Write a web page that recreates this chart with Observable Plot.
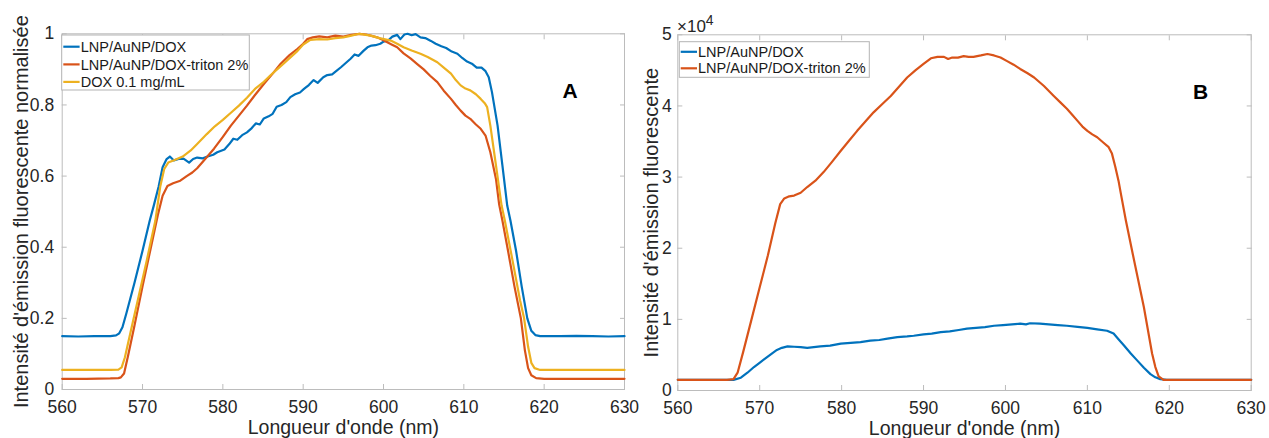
<!DOCTYPE html>
<html><head><meta charset="utf-8">
<script src="https://cdn.jsdelivr.net/npm/d3@7"></script>
<script src="https://cdn.jsdelivr.net/npm/@observablehq/plot@0.6"></script>
<style>
body{margin:0;background:#fff;}
#wrap{position:relative;width:1269px;height:438px;overflow:hidden;font-family:"Liberation Sans",Arial,sans-serif;}
#wrap > svg{position:absolute;top:0;}
#overlay{position:absolute;left:0;top:0;pointer-events:none;}
</style></head>
<body><div id="wrap"></div>
<script>
// ---------- ticks & labels ----------
const xTicks = [560,570,580,590,600,610,620,630];
const yTicksA = [0,0.2,0.4,0.6,0.8,1];
const yTicksB = [0,1,2,3,4,5];
const seriesNames = ["LNP/AuNP/DOX","LNP/AuNP/DOX-triton 2%","DOX 0.1 mg/mL"];
const colors = ["#0072BD","#D95319","#EDB120"];
const xLabel = "Longueur d'onde (nm)";
const yLabelA = "Intensité d'émission fluorescente normalisée";
const yLabelB = "Intensité d'émission fluorescente";

// ---------- Panel A (normalised) ----------
const wlA_lnp = [560,562,564,566,566.7,567.1,567.5,568,569,570,570.9,571.4,572,572.5,573,573.4,573.9,574.5,575.1,575.8,576.3,576.8,577.5,578.1,578.8,579.3,580.2,580.8,581.3,581.8,582.4,583,583.6,584.1,584.6,585.1,585.7,586.2,586.7,587.3,587.9,588.4,589,589.6,590.1,590.7,591.3,591.8,592.5,593,593.6,594.1,594.7,595.3,595.9,596.4,596.9,597.5,598,598.5,599,599.6,600,600.6,601.1,601.7,602.1,602.6,603,603.5,604,604.6,605.2,605.9,606.5,607.2,607.8,608.5,609.2,609.8,610.4,611,611.6,612.2,612.7,613.1,613.5,614.2,614.8,615.4,615.8,616.5,617.2,617.9,618.4,618.9,619.5,622,624,626,628,630];
const A_lnp   = [0.150,0.149,0.150,0.150,0.152,0.158,0.175,0.215,0.300,0.390,0.475,0.517,0.570,0.625,0.648,0.655,0.644,0.648,0.649,0.638,0.648,0.652,0.650,0.655,0.660,0.667,0.675,0.690,0.705,0.702,0.715,0.723,0.735,0.748,0.745,0.762,0.768,0.775,0.795,0.800,0.808,0.822,0.830,0.835,0.845,0.856,0.870,0.862,0.878,0.884,0.886,0.895,0.906,0.918,0.930,0.942,0.938,0.952,0.962,0.967,0.968,0.972,0.978,0.982,0.992,0.997,0.985,0.998,1.000,0.996,0.999,0.990,0.988,0.980,0.972,0.965,0.960,0.950,0.944,0.932,0.922,0.916,0.905,0.905,0.895,0.878,0.836,0.742,0.630,0.517,0.475,0.390,0.290,0.200,0.165,0.153,0.150,0.150,0.151,0.150,0.149,0.150];

const wlA_tri = [560,563,566,567,567.3,567.7,568.2,569,570,571,571.9,572.5,573.1,573.8,574.7,575.5,576.2,576.8,577.8,578.9,580,581,582,583,584,585.1,586.2,587.2,588.3,589.3,590,590.5,591.2,592,593,594,595,596,597,597.8,598.4,599.2,600,601,601.7,602.5,603.4,604.2,605,605.8,606.7,607.5,608.4,609,609.6,610.2,610.8,611.5,612.1,612.7,613.3,614,614.4,614.8,615.5,616.3,617.1,617.6,618,618.4,619,620,625,630];
const A_tri   = [0.030,0.030,0.031,0.032,0.034,0.045,0.095,0.180,0.290,0.395,0.490,0.545,0.572,0.580,0.587,0.600,0.610,0.622,0.648,0.677,0.710,0.742,0.770,0.798,0.828,0.859,0.888,0.916,0.940,0.958,0.972,0.985,0.990,0.993,0.990,0.995,0.992,0.997,1.000,0.998,0.995,0.990,0.982,0.970,0.962,0.945,0.930,0.915,0.900,0.882,0.864,0.840,0.817,0.800,0.784,0.770,0.761,0.745,0.733,0.714,0.667,0.592,0.520,0.475,0.390,0.290,0.200,0.110,0.060,0.040,0.032,0.030,0.030,0.030];

const wlA_dox = [560,563,566,567,567.4,567.8,568.5,569.5,570.5,571.6,572.2,572.7,573.2,574,575,576,576.8,578,579,580,581,582,583,584,585.1,586,587,588,589.3,590,590.9,592,593,594,595,596,597,598.4,599.5,600.9,601.7,602.5,603.5,604.6,605.5,606.7,607.5,608.4,609,609.6,610.2,610.8,611.5,612.1,612.6,612.9,613.3,614,614.7,615.1,616,617,617.5,618,618.4,618.8,619.5,622,626,630];
const A_dox   = [0.055,0.055,0.055,0.056,0.062,0.090,0.160,0.260,0.360,0.475,0.570,0.620,0.638,0.645,0.655,0.672,0.690,0.718,0.740,0.758,0.778,0.798,0.820,0.845,0.865,0.885,0.905,0.925,0.952,0.970,0.983,0.985,0.984,0.988,0.990,0.995,1.000,0.995,0.988,0.981,0.972,0.962,0.953,0.944,0.935,0.920,0.905,0.888,0.870,0.855,0.846,0.841,0.830,0.817,0.805,0.794,0.742,0.630,0.517,0.475,0.370,0.250,0.200,0.120,0.075,0.060,0.055,0.055,0.055,0.055];

// ---------- Panel B (intensity, x10^4) ----------
const wlB_lnp = [560,563,566.8,567.7,568.5,569.3,570.1,570.9,571.6,572.1,572.7,573.4,574.2,575,575.8,576.6,577.4,578.6,579.9,581.1,582.3,583.5,584.6,585.6,586.8,588,588.8,590,591,592.1,593.2,594.3,595.3,596.4,597.5,598.6,599.7,600.8,601.8,602.5,603,604.2,605.3,606.4,607.5,608.8,610,611.2,612.4,613.2,613.8,614.5,615.3,616.1,616.9,617.7,618.3,618.9,619.7,622,626,630];
const B_lnp   = [0.15,0.15,0.15,0.18,0.25,0.33,0.40,0.47,0.53,0.57,0.60,0.62,0.615,0.61,0.60,0.61,0.62,0.63,0.66,0.67,0.68,0.70,0.71,0.73,0.75,0.76,0.77,0.79,0.80,0.82,0.83,0.85,0.87,0.88,0.89,0.91,0.92,0.93,0.94,0.93,0.945,0.94,0.93,0.92,0.91,0.895,0.88,0.86,0.84,0.80,0.72,0.63,0.52,0.42,0.32,0.23,0.185,0.16,0.15,0.15,0.15,0.15];

const wlB_tri = [560,563,566,566.8,567.3,568,569,570,571,571.9,572.5,573,573.6,574.2,575,575.8,576.8,577.8,578.8,579.9,580.9,581.9,582.9,583.9,585,586,587,588,589,590,590.9,591.7,592.5,593,593.5,594.2,594.9,595.5,596.1,597,597.8,598.6,599.4,600.2,601,601.8,602.7,603.5,604.7,605.9,606.7,607.5,608.2,608.8,609.4,610,610.6,611.2,611.9,612.6,613,613.4,613.8,614.1,614.7,615.7,616.9,617.9,618.3,618.7,619.3,620,625,630];
const B_tri   = [0.15,0.15,0.15,0.16,0.25,0.55,1.00,1.45,1.90,2.35,2.62,2.70,2.73,2.74,2.78,2.86,2.95,3.07,3.21,3.37,3.51,3.65,3.78,3.91,4.03,4.14,4.27,4.40,4.50,4.59,4.67,4.69,4.69,4.66,4.68,4.68,4.70,4.69,4.69,4.71,4.73,4.71,4.68,4.63,4.58,4.52,4.46,4.40,4.28,4.14,4.05,3.96,3.87,3.79,3.71,3.65,3.60,3.56,3.49,3.42,3.33,3.15,2.95,2.76,2.39,1.83,1.17,0.52,0.33,0.20,0.15,0.15,0.15,0.15];

const rows = (wl, v) => wl.map((w, i) => ({wl: w, v: v[i]}));

const AXIS = "#bcbcbc";
function panel(o) {
  return Plot.plot({
    width: o.width, height: 438,
    marginLeft: o.ml, marginRight: o.mr, marginTop: o.mt, marginBottom: o.mb,
    style: {fontFamily: "'Liberation Sans', Arial, sans-serif", color: "#262626", background: "transparent", overflow: "visible"},
    x: {domain: [560, 630], label: null},
    y: {domain: o.ydom, label: null},
    marks: [
      Plot.frame({stroke: AXIS}),
      Plot.axisX(xTicks, {anchor: "bottom", tickSize: -5, tickFormat: () => "", stroke: AXIS, label: null}),
      Plot.axisX(xTicks, {anchor: "top", tickSize: -5, tickFormat: () => "", stroke: AXIS, label: null}),
      Plot.axisY(o.yTicks, {anchor: "left", tickSize: -5, tickFormat: () => "", stroke: AXIS, label: null}),
      Plot.axisY(o.yTicks, {anchor: "right", tickSize: -5, tickFormat: () => "", stroke: AXIS, label: null}),
      Plot.axisX(xTicks, {anchor: "bottom", tickSize: 0, tickPadding: 11, fontSize: 17.5, label: null, tickFormat: d => String(d)}),
      Plot.axisY(o.yTicks, {anchor: "left", tickSize: 0, tickPadding: o.ypad, fontSize: 17.5, label: null, tickFormat: d => String(d)}),
      ...o.series.map(s => Plot.line(s.data, {x: "wl", y: "v", stroke: s.color, strokeWidth: 2.2})),
      Plot.text([xLabel], {frameAnchor: "bottom", textAnchor: "middle", lineAnchor: "middle", dy: 38, fontSize: 19.5, text: d => d, fill: "#262626"}),
      Plot.text([o.ylabel], {frameAnchor: "left", textAnchor: "middle", lineAnchor: "middle", rotate: -90, dx: o.ydx, fontSize: 20, text: d => d, fill: "#262626"})
    ]
  });
}

const wrap = document.getElementById("wrap");
const pA = panel({
  width: 630, ml: 61.7, mr: 6, mt: 33.3, mb: 49, ydom: [0, 1], yTicks: yTicksA, ypad: 8,
  ylabel: yLabelA, ydx: -41,
  series: [
    {data: rows(wlA_lnp, A_lnp), color: colors[0]},
    {data: rows(wlA_tri, A_tri), color: colors[1]},
    {data: rows(wlA_dox, A_dox), color: colors[2]}
  ]
});
pA.style.left = "0px";
wrap.appendChild(pA);

const pB = panel({
  width: 639, ml: 47.3, mr: 18.3, mt: 34.3, mb: 48, ydom: [0, 5], yTicks: yTicksB, ypad: 6,
  ylabel: yLabelB, ydx: -26.7,
  series: [
    {data: rows(wlB_lnp, B_lnp), color: colors[0]},
    {data: rows(wlB_tri, B_tri), color: colors[1]}
  ]
});
pB.style.left = "630px";
wrap.appendChild(pB);

// ---------- overlay: legends, panel tags, exponent ----------
const NS = "http://www.w3.org/2000/svg";
const ov = document.createElementNS(NS, "svg");
ov.setAttribute("id", "overlay");
ov.setAttribute("width", 1269); ov.setAttribute("height", 438);
ov.style.fontFamily = "'Liberation Sans', Arial, sans-serif";
wrap.appendChild(ov);
function el(tag, attrs, txt) {
  const e = document.createElementNS(NS, tag);
  for (const k in attrs) e.setAttribute(k, attrs[k]);
  if (txt != null) e.textContent = txt;
  ov.appendChild(e);
  return e;
}
function legend(x, y, w, h, rowsY, n, lx1, lx2, tx) {
  el("rect", {x, y, width: w, height: h, fill: "#fff", stroke: "#b3b3b3", "stroke-width": 1});
  for (let i = 0; i < n; i++) {
    el("line", {x1: lx1, x2: lx2, y1: rowsY[i], y2: rowsY[i], stroke: colors[i], "stroke-width": 2.2});
    el("text", {x: tx, y: rowsY[i] + 5.1, "font-size": 14.5, fill: "#1a1a1a"}, seriesNames[i]);
  }
}
legend(61.7, 35, 187.6, 55, [46.7, 64.4, 81.9], 3, 63.3, 79.6, 80.7);
legend(679.3, 41.7, 190, 35.6, [51.8, 68.3], 2, 680.7, 697, 698);

el("text", {x: 570, y: 98, "text-anchor": "middle", "font-size": 21, "font-weight": "bold", fill: "#000"}, "A");
el("text", {x: 1200.5, y: 99, "text-anchor": "middle", "font-size": 21, "font-weight": "bold", fill: "#000"}, "B");

const ex = el("text", {x: 677, y: 32, "font-size": 17, fill: "#262626"}, "×10");
const sup = document.createElementNS(NS, "tspan");
sup.setAttribute("dy", -7); sup.setAttribute("font-size", 14); sup.textContent = "4";
ex.appendChild(sup);
</script>
</body></html>
